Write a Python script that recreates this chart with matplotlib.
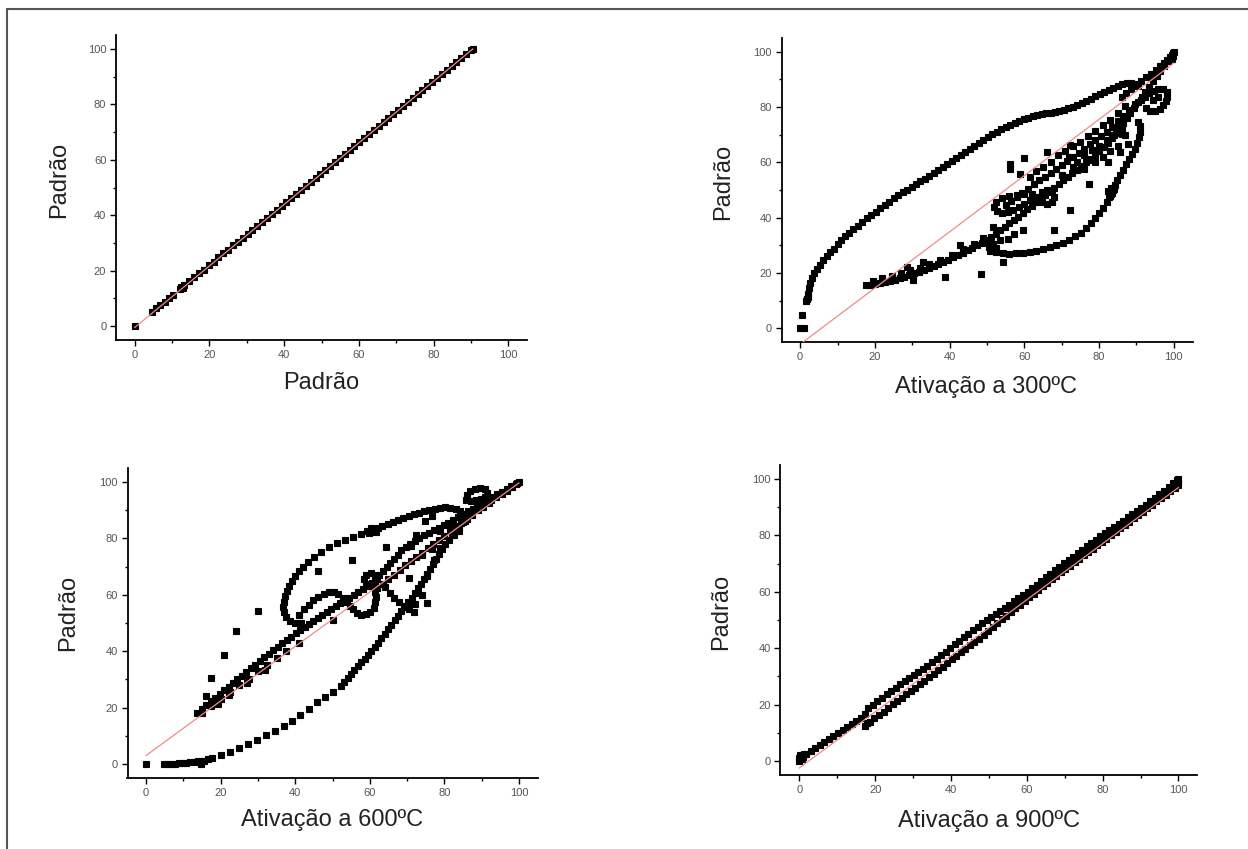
import numpy as np
import matplotlib.pyplot as plt
from matplotlib.patches import Rectangle
from matplotlib.ticker import MultipleLocator

plt.rcParams['font.family'] = ['Liberation Sans', 'DejaVu Sans']

# ---- Padrão x Padrão ----
pad_pts = [(0, 0), (4.6, 5.1), (5.8, 6.4), (6.9, 7.6), (8.0, 8.8), (9.1, 10.1), (10.3, 11.4),
           (12.0, 13.3), (12.3, 14.0), (12.9, 13.6), (13.3, 14.7), (14.6, 16.1), (15.9, 17.6),
           (17.2, 19.0), (18.5, 20.4), (19.8, 21.9), (21.1, 23.3), (22.4, 24.8), (23.7, 26.2),
           (25.0, 27.6), (26.3, 29.1), (27.6, 30.5), (28.9, 31.9), (30.2, 33.4), (31.5, 34.8),
           (32.8, 36.2), (34.1, 37.7), (35.4, 39.1), (36.7, 40.6), (38.0, 42.0), (39.3, 43.4),
           (40.6, 44.9), (41.9, 46.3), (43.2, 47.7), (44.5, 49.2), (45.8, 50.6), (47.1, 52.0),
           (48.4, 53.5), (49.7, 54.9), (51.0, 56.4), (52.3, 57.8), (53.6, 59.2), (54.9, 60.7),
           (56.2, 62.1), (57.5, 63.5), (58.8, 65.0), (60.1, 66.4), (61.4, 67.8), (62.7, 69.3),
           (64.0, 70.7), (65.3, 72.2), (66.6, 73.6), (67.9, 75.0), (69.2, 76.5), (70.5, 77.9),
           (71.8, 79.3), (73.1, 80.8), (74.4, 82.2), (75.7, 83.6), (77.0, 85.1), (78.3, 86.5),
           (79.6, 88.0), (80.9, 89.4), (82.2, 90.8), (83.5, 92.3), (84.8, 93.7), (86.1, 95.1),
           (87.4, 96.6), (88.7, 98.0), (90.0, 99.5), (90.5, 100.0)]

# ---- Ativação a 300ºC ----
a300_start = [(0.0, 0.0), (0.9, 0.0), (0.4, 4.6), (1.5, 10.0), (2.0, 11.2), (1.7, 10.5)]
a300_upper = [(1.8, 10.6), (2.0, 12.5), (2.3, 14.5), (2.7, 16.2), (3.2, 18.0), (3.8, 19.8),
              (4.5, 21.4), (5.3, 23.0), (6.2, 24.6), (7.1, 26.0), (8.0, 27.4), (9.0, 28.8),
              (10.0, 30.3), (11.0, 31.8), (12.0, 33.2), (13.0, 34.5), (14.2, 35.8), (15.4, 37.1),
              (16.6, 38.4), (17.8, 39.7), (19.0, 41.0), (20.2, 42.2), (21.4, 43.4), (22.6, 44.6),
              (23.8, 45.8), (25.0, 47.0), (26.2, 48.1), (27.4, 49.1), (28.6, 50.1), (29.8, 51.1),
              (31.0, 52.1), (32.2, 53.1), (33.4, 54.1), (34.6, 55.1), (35.8, 56.2), (37.0, 57.3),
              (38.2, 58.4), (39.4, 59.5), (40.6, 60.6), (41.8, 61.7), (43.0, 62.8), (44.2, 63.9),
              (45.4, 65.0), (46.6, 66.1), (47.8, 67.1), (49.0, 68.1), (50.2, 69.1), (51.4, 70.1),
              (52.6, 71.1), (53.8, 72.0), (55.0, 72.9), (56.2, 73.7), (57.4, 74.4), (58.6, 75.1),
              (59.8, 75.7), (61.0, 76.2), (62.2, 76.7), (63.4, 77.1), (64.6, 77.5), (65.8, 77.8),
              (67.0, 78.0), (68.2, 78.2), (69.4, 78.5), (70.6, 78.9), (71.8, 79.5), (73.0, 80.2),
              (74.2, 80.9), (75.4, 81.6), (76.6, 82.3), (77.8, 83.1), (79.0, 83.9), (80.2, 84.7),
              (81.4, 85.5), (82.6, 86.3), (83.8, 87.0), (85.0, 87.7), (86.2, 88.2), (87.4, 88.6),
              (88.6, 88.6), (89.8, 88.2), (90.5, 87.5)]
a300_lower = [(17.5, 15.5), (18.8, 15.6), (20.1, 15.9), (21.4, 16.3), (22.7, 16.7), (24.0, 17.1),
              (25.3, 17.6), (26.6, 18.1), (27.9, 18.7), (29.2, 19.3), (30.5, 19.9), (31.8, 20.5),
              (33.1, 21.2), (34.4, 21.9), (35.7, 22.6), (37.0, 23.3), (38.3, 24.0), (39.6, 24.8),
              (40.9, 25.6), (42.2, 26.4), (43.5, 27.3), (44.8, 28.2), (46.1, 29.1), (47.4, 30.0),
              (48.7, 31.0), (50.0, 32.0), (51.2, 33.1), (52.4, 34.2), (53.6, 35.4), (54.8, 36.6),
              (56.0, 37.9), (57.2, 39.1), (58.4, 40.4), (59.6, 41.7), (60.8, 43.0), (62.0, 44.3),
              (63.2, 45.6), (64.4, 47.0), (65.6, 48.3), (66.8, 49.6), (68.0, 50.9), (69.2, 52.2),
              (70.4, 53.5), (71.6, 54.8), (72.8, 56.1), (74.0, 57.4), (75.2, 58.7), (76.4, 60.0),
              (77.6, 61.3), (78.8, 62.7), (80.0, 64.1), (81.2, 65.6), (82.4, 67.1), (83.4, 68.8),
              (84.4, 70.5), (85.4, 72.3), (86.4, 74.1), (87.4, 76.0), (88.4, 77.9), (89.4, 79.8),
              (90.4, 81.7), (91.4, 83.6), (92.4, 85.5), (93.4, 87.4), (94.4, 89.3), (95.4, 91.2),
              (96.4, 93.0), (97.4, 94.8), (98.4, 96.6), (99.2, 98.2),
              (19.5, 17.0), (22.0, 18.2), (24.5, 18.9), (27.0, 20.0), (29.5, 21.0), (32.0, 21.8),
              (34.5, 23.2), (37.5, 24.8), (40.5, 26.5), (43.5, 28.6), (46.5, 30.6), (49.0, 32.8)]
a300_band = [(55.0, 44.5), (56.5, 46.0), (58.0, 47.5), (59.5, 49.0), (61.0, 50.5), (62.5, 52.0),
             (64.0, 53.5), (65.5, 54.8), (67.0, 56.0), (68.5, 57.5), (70.0, 59.0), (71.5, 60.5),
             (73.0, 62.0), (74.5, 63.5), (76.0, 65.0), (77.5, 66.5), (79.0, 68.0), (80.5, 69.5),
             (82.0, 71.0), (83.5, 72.8), (85.0, 74.8), (86.5, 76.8), (88.0, 79.0), (89.5, 81.2),
             (63.0, 57.0), (65.0, 58.5), (67.0, 60.0), (69.0, 62.5), (71.0, 64.0), (73.0, 66.0),
             (75.0, 67.5), (77.0, 69.5), (79.0, 71.5), (81.0, 73.5), (83.0, 75.5), (85.0, 78.0),
             (87.0, 80.5), (72.0, 62.0), (74.0, 60.0), (76.0, 62.5), (78.0, 64.5), (80.0, 66.0),
             (82.0, 68.0), (84.0, 70.0), (86.0, 72.0), (76.0, 57.5), (79.0, 60.0), (81.0, 62.0),
             (83.0, 64.0), (85.0, 66.0), (87.0, 70.0), (70.0, 55.5), (73.0, 58.5)]
a300_loop = [(52.0, 44.0), (52.5, 45.8), (54.0, 47.0), (56.0, 47.8), (58.0, 48.3), (60.0, 48.6),
             (62.0, 48.6), (63.0, 47.5), (61.5, 46.3), (60.0, 45.0), (58.5, 43.8), (57.0, 42.8),
             (55.5, 42.0), (54.0, 41.6), (52.8, 42.3),
             (64.2, 47.5), (64.6, 49.2), (66.0, 50.0), (67.4, 49.3), (67.8, 47.5), (67.3, 45.8),
             (66.0, 45.0), (64.7, 45.7)]
a300_right = [(50.5, 29.5), (51.5, 30.5), (52.5, 29.0), (50.8, 28.1), (52.4, 27.4), (54.2, 27.1),
              (56.0, 27.0), (57.8, 27.1), (59.6, 27.3), (61.4, 27.6), (63.2, 28.1), (65.0, 28.6),
              (66.8, 29.2), (68.6, 30.0), (70.3, 30.9), (72.0, 32.0), (73.6, 33.2), (75.1, 34.6),
              (76.5, 36.2), (77.8, 37.9), (79.0, 39.7), (80.1, 41.6), (81.1, 43.6), (82.0, 45.6),
              (82.6, 47.4), (83.2, 48.5), (83.6, 50.0), (84.2, 51.8), (84.9, 53.6), (85.7, 55.5),
              (86.5, 57.4), (87.3, 59.3), (88.1, 61.2), (88.9, 63.1), (89.6, 65.0), (90.2, 67.0),
              (90.7, 69.0), (91.0, 71.0), (91.0, 73.0), (90.3, 74.5),
              (82.5, 49.5), (83.5, 49.0), (82.8, 48.0), (84.0, 50.5), (83.2, 50.8)]
a300_hook = [(91.1, 82.5), (92.3, 83.8), (93.4, 85.0), (94.6, 85.9), (95.9, 86.4), (97.2, 86.5),
             (98.1, 85.4), (98.2, 83.8), (97.9, 82.2), (97.2, 80.6), (96.2, 79.3), (95.0, 78.5),
             (93.7, 78.6), (92.5, 79.6), (94.5, 82.5), (95.7, 83.6)]
a300_top = [(86.0, 83.5), (87.3, 85.0), (88.6, 86.5), (89.9, 88.0), (91.2, 89.5), (92.5, 90.8),
            (93.8, 92.1), (95.1, 93.4), (96.3, 94.7), (97.4, 96.0), (98.3, 97.2), (99.0, 98.2),
            (99.5, 99.0), (99.8, 99.6), (100.0, 100.0), (99.6, 97.5), (99.9, 98.5)]
a300_out = [(56.2, 59.5), (56.2, 57.7), (59.8, 61.4), (58.9, 55.9), (61.5, 54.7), (66.0, 63.8),
            (72.3, 66.2), (77.2, 52.3), (72.3, 42.6), (67.8, 35.4), (54.4, 23.9), (48.4, 19.7),
            (38.8, 18.5), (42.8, 30.0), (30.3, 17.3), (32.9, 23.9), (28.5, 22.1), (24.5, 18.5),
            (82.5, 60.1), (85.6, 63.8), (87.8, 66.8), (86.0, 70.4), (78.5, 60.8), (51.7, 36.6),
            (57.1, 34.2), (59.7, 35.4), (55.7, 32.4), (53.5, 31.8)]

# ---- Ativação a 600ºC ----
a600_lower = [(0.0, 0.0), (4.8, 0.0), (5.8, 0.0), (6.8, 0.0), (7.8, 0.0), (8.8, 0.2), (9.8, 0.3),
              (10.8, 0.5), (11.8, 0.7), (12.8, 0.8), (13.8, 0.9), (14.6, -0.2), (14.6, 0.9),
              (15.6, 1.2), (16.6, 1.6), (17.8, 2.1), (20.2, 3.3), (22.6, 4.4), (25.0, 5.6),
              (27.4, 7.0), (29.8, 8.6), (32.2, 10.2), (34.6, 11.8), (37.0, 13.4), (39.2, 15.3),
              (41.4, 17.2), (43.6, 19.6), (45.8, 21.8), (48.0, 23.7), (50.2, 25.6), (52.2, 27.8),
              (53.2, 29.1), (54.1, 30.5), (55.0, 31.8), (55.9, 33.2), (56.8, 34.6), (57.7, 36.0),
              (58.6, 37.3), (59.5, 38.7), (60.4, 40.1), (61.3, 41.5), (62.2, 43.0), (63.1, 44.6),
              (64.0, 46.2), (64.9, 47.8), (65.8, 49.4), (66.7, 51.0), (67.6, 52.6), (68.5, 54.2),
              (69.4, 55.8), (70.3, 57.4), (71.2, 59.0), (72.1, 60.6), (73.0, 62.3), (73.8, 64.0),
              (74.6, 65.7), (75.4, 67.4), (76.2, 69.1), (77.0, 70.9), (77.8, 72.7), (78.6, 74.5),
              (79.4, 76.3), (80.3, 78.0), (81.2, 79.6), (82.1, 81.2), (83.0, 82.8), (84.0, 84.3),
              (85.0, 85.8), (86.1, 87.3), (87.3, 88.7), (88.5, 90.0), (89.8, 91.3), (91.2, 92.5),
              (92.6, 93.6), (94.0, 94.7), (95.4, 95.8), (96.8, 96.9), (98.2, 98.4), (99.5, 99.8)]
a600_band = [(13.7, 18.0), (14.9, 19.5), (16.1, 20.9), (17.3, 22.2), (18.5, 23.5), (19.7, 24.8),
             (20.9, 26.1), (22.1, 27.4), (23.3, 28.7), (24.5, 30.0), (25.7, 31.3), (26.9, 32.6),
             (28.1, 33.9), (29.3, 35.2), (30.5, 36.5), (31.7, 37.8), (32.9, 39.1), (34.1, 40.4),
             (35.3, 41.6), (36.5, 42.8), (37.7, 44.0), (38.9, 45.2), (40.1, 46.4), (41.3, 47.5),
             (42.5, 48.6), (43.7, 49.7), (44.9, 50.8), (46.1, 51.9), (47.3, 53.0), (48.5, 54.0),
             (49.7, 55.0), (50.9, 56.0), (52.1, 57.0), (53.3, 58.0), (54.5, 59.0), (55.7, 60.0),
             (56.9, 61.0), (58.1, 62.0), (59.3, 63.1), (60.5, 64.3), (61.5, 65.6), (62.5, 67.0),
             (63.5, 68.4), (64.5, 69.8), (65.5, 71.3), (66.5, 72.8), (67.5, 74.3), (68.5, 75.8),
             (69.6, 77.1), (70.8, 78.2), (72.0, 79.2), (73.3, 80.2), (74.6, 81.1), (75.9, 82.0),
             (77.2, 82.9), (78.5, 83.8), (79.8, 84.7), (81.1, 85.6), (82.4, 86.6), (83.7, 87.6),
             (85.0, 88.6), (86.3, 89.6), (87.6, 90.6), (88.9, 91.6), (90.2, 92.6), (91.5, 93.6),
             (92.8, 94.6), (94.1, 95.6), (95.4, 96.6), (96.7, 97.6), (98.0, 98.6), (99.2, 99.4),
             (100.0, 100.0),
             (15.0, 18.2), (17.5, 20.6), (20.0, 23.0), (22.5, 25.4), (25.0, 27.9), (27.5, 30.3),
             (30.0, 32.8), (32.5, 35.2), (35.0, 37.6), (37.5, 40.0),
             (62.0, 62.5), (63.5, 64.0), (65.0, 65.5), (66.5, 67.0), (68.0, 68.8), (69.5, 70.5),
             (71.0, 72.0), (72.5, 73.5), (74.0, 75.0), (75.5, 76.5), (77.0, 78.0), (78.5, 79.5),
             (80.0, 81.0), (81.5, 82.5), (83.0, 84.0), (84.5, 85.5), (86.0, 87.0), (87.5, 88.5),
             (89.0, 90.0), (90.5, 91.2), (92.0, 92.5)]
a600_loop = [(41.5, 50.0), (40.0, 50.0), (38.6, 50.6), (37.6, 52.0), (37.0, 53.8), (36.8, 55.7),
             (36.9, 57.6), (37.2, 59.5), (37.7, 61.4), (38.3, 63.2), (39.0, 65.0), (39.9, 66.7),
             (40.9, 68.3), (42.0, 69.9), (43.4, 71.6), (45.0, 73.5), (46.9, 75.2), (49.0, 76.9),
             (51.2, 78.3), (53.4, 79.6), (55.6, 80.6), (57.6, 81.6), (59.3, 82.5), (59.8, 82.0),
             (60.6, 82.8), (61.4, 83.2), (60.2, 83.6), (61.8, 82.2), (62.2, 83.8), (63.4, 84.5),
             (64.8, 85.3), (66.2, 86.0), (67.6, 86.7), (69.0, 87.4), (70.4, 88.0), (71.8, 88.6),
             (73.2, 89.2), (74.6, 89.7), (76.0, 90.2), (77.4, 90.6), (78.8, 90.9), (80.2, 91.0),
             (81.6, 90.8), (83.0, 90.3), (84.2, 89.8)]
a600_wave = [(41.0, 53.0), (42.3, 54.8), (43.6, 56.5), (44.9, 58.0), (46.2, 59.3), (47.6, 60.3),
             (49.0, 61.0), (50.4, 61.0), (51.6, 60.2), (52.7, 59.0), (53.7, 57.6), (54.6, 56.2),
             (55.5, 54.8), (56.5, 53.6), (57.7, 53.0), (59.0, 53.1), (60.1, 54.0), (61.0, 55.5),
             (61.5, 57.3), (61.6, 59.2), (61.4, 61.0), (61.2, 62.8),
             (62.0, 65.5), (61.5, 67.2), (60.2, 67.9), (58.9, 67.2), (58.4, 65.5), (58.9, 63.8),
             (60.2, 63.1), (61.5, 63.8),
             (64.0, 62.6), (65.3, 60.8), (66.6, 59.0), (67.9, 57.4), (69.2, 56.0), (70.5, 54.8),
             (71.8, 54.0)]
a600_hook = [(85.8, 93.8), (86.2, 95.5), (87.0, 96.8), (88.2, 97.6), (89.5, 97.9), (90.8, 97.4),
             (91.4, 96.2), (91.0, 94.8), (89.8, 94.0), (88.4, 93.6), (87.2, 93.4)]
a600_out = [(16.1, 24.0), (17.5, 30.5), (20.9, 38.8), (24.2, 47.3), (30.0, 54.2), (19.4, 21.1),
            (22.3, 24.6), (27.1, 28.8), (31.9, 33.5), (41.0, 43.0), (50.0, 51.2), (46.2, 68.4),
            (55.3, 72.5), (64.4, 76.9), (53.9, 57.8), (70.6, 66.0), (75.4, 66.6), (77.3, 72.5),
            (75.4, 57.2), (74.0, 60.1), (72.1, 56.6), (74.9, 86.2), (76.8, 87.9), (78.8, 82.6),
            (81.6, 85.0), (82.6, 81.4), (84.0, 82.6), (85.5, 86.2), (72.5, 81.4), (71.1, 77.3),
            (76.8, 76.1), (74.0, 74.3), (78.8, 76.7)]

# ---- Ativação a 900ºC ----
a900_upper = [(0.0, 0.0), (0.0, 1.2), (0.3, 2.0), (0.6, 0.6), (1.0, 1.5), (1.2, 2.4),
              (1.8, 2.4), (3.0, 3.6), (4.2, 4.6), (5.4, 5.6), (6.6, 6.6), (7.8, 7.6), (9.0, 8.7),
              (10.2, 9.8), (11.4, 10.9), (12.6, 12.0), (13.8, 13.1), (15.0, 14.2), (16.2, 15.3),
              (17.4, 16.5), (18.2, 18.8), (19.4, 20.0), (20.6, 21.2), (21.8, 22.4), (23.0, 23.6),
              (24.2, 24.8), (25.4, 26.0), (26.6, 27.2), (27.8, 28.3), (29.0, 29.4), (30.2, 30.5),
              (31.4, 31.6), (32.6, 32.7), (33.8, 33.8), (35.0, 35.0), (36.2, 36.2), (37.4, 37.5),
              (38.6, 38.8), (39.8, 40.1), (41.0, 41.4), (42.2, 42.7), (43.4, 44.0), (44.6, 45.2),
              (45.8, 46.4), (47.0, 47.6), (48.2, 48.8), (49.4, 50.0), (50.6, 51.1), (51.8, 52.2),
              (53.0, 53.3), (54.2, 54.4), (55.4, 55.5), (56.6, 56.6), (57.8, 57.7), (59.0, 58.9),
              (60.2, 60.1), (61.4, 61.3), (62.6, 62.5), (63.8, 63.8), (65.0, 65.1), (66.2, 66.4),
              (67.4, 67.7), (68.6, 68.9), (69.8, 70.1), (71.0, 71.3), (72.2, 72.5), (73.4, 73.7),
              (74.6, 74.9), (75.8, 76.1), (77.0, 77.3), (78.2, 78.5), (79.4, 79.7), (80.6, 80.9),
              (81.8, 82.0), (83.0, 83.1), (84.2, 84.2), (85.4, 85.3), (86.6, 86.4), (87.8, 87.5),
              (89.0, 88.6), (90.2, 89.7), (91.4, 90.9), (92.6, 92.1), (93.8, 93.3), (95.0, 94.6),
              (96.2, 95.9), (97.4, 97.2), (98.6, 98.5), (99.5, 99.6), (99.8, 99.0), (100.0, 100.0)]
a900_lower = [(17.4, 12.4), (17.8, 13.6), (18.6, 13.8), (19.8, 15.1), (21.0, 16.3), (22.2, 17.5),
              (23.4, 18.8), (24.6, 20.1), (25.8, 21.3), (27.0, 22.5), (28.2, 23.7), (29.4, 24.8),
              (30.6, 26.0), (31.8, 27.2), (33.0, 28.4), (34.2, 29.6), (35.4, 30.8), (36.6, 32.1),
              (37.8, 33.4), (39.0, 34.7), (40.2, 36.0), (41.4, 37.3), (42.6, 38.5), (43.8, 39.7),
              (45.0, 41.0), (46.2, 42.2), (47.4, 43.4), (48.6, 44.7), (49.8, 46.1), (51.0, 47.5),
              (52.2, 48.9), (53.4, 50.2), (54.6, 51.5), (55.8, 52.8), (57.0, 54.1), (58.2, 55.4),
              (59.4, 56.8), (60.6, 58.1), (61.8, 59.4), (63.0, 60.7), (64.2, 62.0), (65.4, 63.3),
              (66.6, 64.5), (67.8, 65.7), (69.0, 66.9), (70.2, 68.1), (71.4, 69.3), (72.6, 70.5),
              (73.8, 71.7), (75.0, 72.9), (76.2, 74.1), (77.4, 75.3), (78.6, 76.5), (79.8, 77.7),
              (81.0, 78.9), (82.2, 80.1), (83.4, 81.3), (84.6, 82.5), (85.8, 83.7), (87.0, 84.9),
              (88.2, 86.1), (89.4, 87.3), (90.6, 88.5), (91.8, 89.7), (93.0, 90.9), (94.2, 92.1),
              (95.4, 93.3), (96.6, 94.5), (97.8, 95.8), (99.0, 97.0), (99.8, 98.0)]

# linear fit lines (intercept, slope, x range)
fit_intercept = [-0.5, -5.8, 3.0, -2.5]
fit_slope = [1.11, 1.017, 0.967, 0.995]
fit_xmax = [90.5, 100, 100, 100]

xlabels = ['Padrão', 'Ativação a 300ºC', 'Ativação a 600ºC', 'Ativação a 900ºC']
groups = [[pad_pts],
          [a300_start, a300_upper, a300_lower, a300_band, a300_loop, a300_right,
           a300_hook, a300_top, a300_out],
          [a600_lower, a600_band, a600_loop, a600_wave, a600_hook, a600_out],
          [a900_upper, a900_lower]]

W, H = 1248, 849
# axes boxes in pixels: left, top, width, height
boxes = [(116, 35, 411, 305), (781.5, 38, 411, 304), (127.5, 468, 410, 310), (780.4, 465, 417, 310)]
ylab_pos = [(-0.139, 0.525), (-0.142, 0.526), (-0.145, 0.533), (-0.142, 0.526)]
xlab_pos = [(0.499, -0.141), (0.498, -0.149), (0.499, -0.135), (0.50, -0.148)]

fig = plt.figure(figsize=(W / 100, H / 100), dpi=100)

for k in range(4):
    l, t, w, h = boxes[k]
    ax = fig.add_axes([l / W, (H - t - h) / H, w / W, h / H])
    for g in groups[k]:
        pts = np.array(g)
        ax.plot(pts[:, 0], pts[:, 1], ls='none', marker='s', ms=4.5,
                mfc='black', mec='black', mew=0.8, zorder=2)
    xs = np.array([0, fit_xmax[k]])
    ax.plot(xs, fit_intercept[k] + fit_slope[k] * xs, color='#f28a8a', lw=0.9, zorder=3)

    ax.set_xlim(-5, 105)
    ax.set_ylim(-5, 105)
    ax.spines[['top', 'right']].set_visible(False)
    ax.spines[['left', 'bottom']].set_linewidth(1.3)
    ax.xaxis.set_major_locator(MultipleLocator(20))
    ax.yaxis.set_major_locator(MultipleLocator(20))
    ax.xaxis.set_minor_locator(MultipleLocator(10))
    ax.yaxis.set_minor_locator(MultipleLocator(10))
    ax.tick_params(which='major', direction='out', length=4, width=1, labelsize=8,
                   labelcolor='#555555', pad=3)
    ax.tick_params(which='minor', direction='out', length=2.5, width=1)

    ax.set_ylabel('Padrão', fontsize=17, color='#222222', va='center')
    ax.yaxis.set_label_coords(*ylab_pos[k])
    ax.set_xlabel(xlabels[k], fontsize=17, color='#222222', va='center')
    ax.xaxis.set_label_coords(*xlab_pos[k])

# outer frame (left and top edges visible)
fig.add_artist(Rectangle((7 / W, -0.05), 1.1, (H - 9) / H + 0.05, transform=fig.transFigure,
                         fill=False, ec='#555555', lw=1.5))

fig.savefig('out.png', dpi=100)
